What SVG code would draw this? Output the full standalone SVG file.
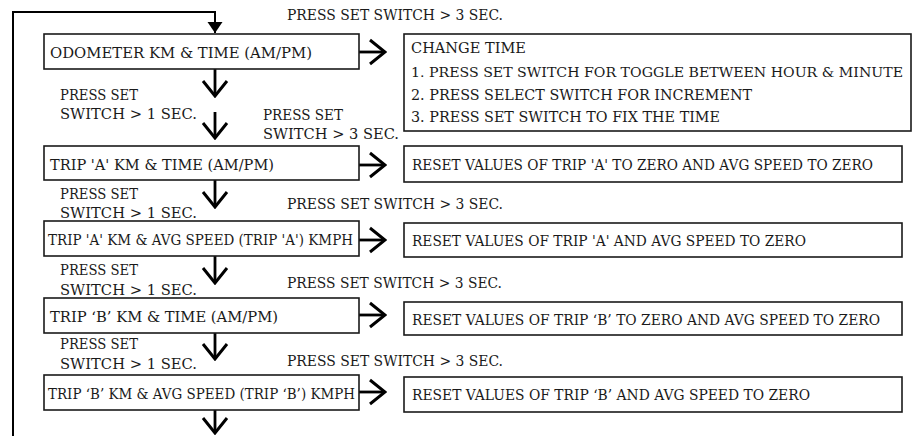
<svg xmlns="http://www.w3.org/2000/svg" width="913" height="436" viewBox="0 0 913 436">
<style>
.box{fill:#fff;stroke:#1a1a1a;stroke-width:1.6}
.t{font-family:"DejaVu Serif","Liberation Serif",serif;font-size:14.8px;fill:#1a1a1a}
.ln{fill:none;stroke:#000;stroke-width:2.8}
.fb{fill:none;stroke:#000;stroke-width:2}
</style>
<defs>
<marker id="chev" viewBox="-18 -14 20 28" refX="0" refY="0" markerWidth="20" markerHeight="28" markerUnits="userSpaceOnUse" orient="auto">
<path d="M-15,-12 L0,0 L-15,12" fill="none" stroke="#000" stroke-width="3"/>
</marker>
<marker id="tri" viewBox="-12 -8 13 16" refX="0" refY="0" markerWidth="13" markerHeight="16" markerUnits="userSpaceOnUse" orient="auto">
<path d="M-11,-7.5 L0,0 L-11,7.5 Z" fill="#000"/>
</marker>
</defs>
<rect width="913" height="436" fill="#fff"/>
<g id="connectors">
<path class="fb" d="M13,436 V12 H215 V33" marker-end="url(#tri)"/>
<path class="ln" d="M215,69 V96" marker-end="url(#chev)"/>
<path class="ln" d="M215,112 V138" marker-end="url(#chev)"/>
<path class="ln" d="M215,180 V207" marker-end="url(#chev)"/>
<path class="ln" d="M215,256 V283" marker-end="url(#chev)"/>
<path class="ln" d="M215,333 V359" marker-end="url(#chev)"/>
<path class="ln" d="M215,410 V433" marker-end="url(#chev)"/>
<path class="ln" d="M359,52 H385" marker-end="url(#chev)"/>
<path class="ln" d="M359,165 H385" marker-end="url(#chev)"/>
<path class="ln" d="M359,240 H385" marker-end="url(#chev)"/>
<path class="ln" d="M359,315 H385" marker-end="url(#chev)"/>
<path class="ln" d="M359,392 H385" marker-end="url(#chev)"/>
</g>
<g id="labels">
<text class="t" x="287" y="20" textLength="216" lengthAdjust="spacingAndGlyphs">PRESS SET SWITCH &gt; 3 SEC.</text>
<text class="t" x="60" y="100" textLength="78" lengthAdjust="spacingAndGlyphs">PRESS SET</text>
<text class="t" x="60" y="119" textLength="137" lengthAdjust="spacingAndGlyphs">SWITCH &gt;  1 SEC.</text>
<text class="t" x="263" y="120" textLength="80" lengthAdjust="spacingAndGlyphs">PRESS SET</text>
<text class="t" x="263" y="139" textLength="136" lengthAdjust="spacingAndGlyphs">SWITCH &gt;  3 SEC.</text>
<text class="t" x="60" y="199" textLength="78" lengthAdjust="spacingAndGlyphs">PRESS SET</text>
<text class="t" x="60" y="218" textLength="137" lengthAdjust="spacingAndGlyphs">SWITCH &gt;  1 SEC.</text>
<text class="t" x="287" y="209" textLength="216" lengthAdjust="spacingAndGlyphs">PRESS SET SWITCH &gt; 3 SEC.</text>
<text class="t" x="60" y="275" textLength="78" lengthAdjust="spacingAndGlyphs">PRESS SET</text>
<text class="t" x="60" y="295" textLength="137" lengthAdjust="spacingAndGlyphs">SWITCH &gt;  1 SEC.</text>
<text class="t" x="287" y="288" textLength="215" lengthAdjust="spacingAndGlyphs">PRESS SET SWITCH &gt; 3 SEC.</text>
<text class="t" x="60" y="349" textLength="78" lengthAdjust="spacingAndGlyphs">PRESS SET</text>
<text class="t" x="60" y="369" textLength="137" lengthAdjust="spacingAndGlyphs">SWITCH &gt;  1 SEC.</text>
<text class="t" x="287" y="366" textLength="216" lengthAdjust="spacingAndGlyphs">PRESS SET SWITCH &gt; 3 SEC.</text>
</g>
<g id="odometer">
<rect class="box" x="44" y="34" width="315" height="35"/>
<text class="t" x="50" y="57.5" textLength="262" lengthAdjust="spacingAndGlyphs">ODOMETER KM &amp; TIME (AM/PM)</text>
</g>
<g id="change-time">
<rect class="box" x="404" y="34" width="507" height="97"/>
<text class="t" x="411" y="53" textLength="115" lengthAdjust="spacingAndGlyphs">CHANGE TIME</text>
<text class="t" x="411" y="77" style="font-size:13.2px" textLength="492" lengthAdjust="spacingAndGlyphs">1. PRESS SET SWITCH FOR TOGGLE BETWEEN HOUR &amp; MINUTE</text>
<text class="t" x="411" y="100" textLength="341" lengthAdjust="spacingAndGlyphs">2. PRESS SELECT SWITCH FOR INCREMENT</text>
<text class="t" x="411" y="122" textLength="309" lengthAdjust="spacingAndGlyphs">3. PRESS SET SWITCH TO FIX THE TIME</text>
</g>
<g id="trip-a-time">
<rect class="box" x="44" y="146" width="315" height="34"/>
<text class="t" x="50" y="170" textLength="224" lengthAdjust="spacingAndGlyphs">TRIP 'A' KM &amp; TIME (AM/PM)</text>
</g>
<g id="reset-a">
<rect class="box" x="404" y="146" width="498" height="36"/>
<text class="t" x="412" y="169.5" textLength="461" lengthAdjust="spacingAndGlyphs">RESET VALUES OF TRIP 'A' TO ZERO AND AVG SPEED TO ZERO</text>
</g>
<g id="trip-a-speed">
<rect class="box" x="44" y="221" width="315" height="35"/>
<text class="t" x="48" y="245" textLength="305" lengthAdjust="spacingAndGlyphs">TRIP 'A' KM &amp; AVG SPEED (TRIP 'A') KMPH</text>
</g>
<g id="reset-a-speed">
<rect class="box" x="404" y="223" width="498" height="34"/>
<text class="t" x="412" y="246" textLength="394" lengthAdjust="spacingAndGlyphs">RESET VALUES OF TRIP 'A' AND AVG SPEED TO ZERO</text>
</g>
<g id="trip-b-time">
<rect class="box" x="44" y="298" width="315" height="35"/>
<text class="t" x="50" y="322" textLength="228" lengthAdjust="spacingAndGlyphs">TRIP ‘B’ KM &amp; TIME (AM/PM)</text>
</g>
<g id="reset-b">
<rect class="box" x="404" y="302" width="498" height="33"/>
<text class="t" x="412" y="325" textLength="468" lengthAdjust="spacingAndGlyphs">RESET VALUES OF TRIP ‘B’ TO ZERO AND AVG SPEED TO ZERO</text>
</g>
<g id="trip-b-speed">
<rect class="box" x="44" y="375" width="315" height="35"/>
<text class="t" x="48" y="399" textLength="307" lengthAdjust="spacingAndGlyphs">TRIP ‘B’ KM &amp; AVG SPEED (TRIP ‘B’) KMPH</text>
</g>
<g id="reset-b-speed">
<rect class="box" x="404" y="377" width="498" height="35"/>
<text class="t" x="412" y="400" textLength="398" lengthAdjust="spacingAndGlyphs">RESET VALUES OF TRIP ‘B’ AND AVG SPEED TO ZERO</text>
</g>
</svg>
